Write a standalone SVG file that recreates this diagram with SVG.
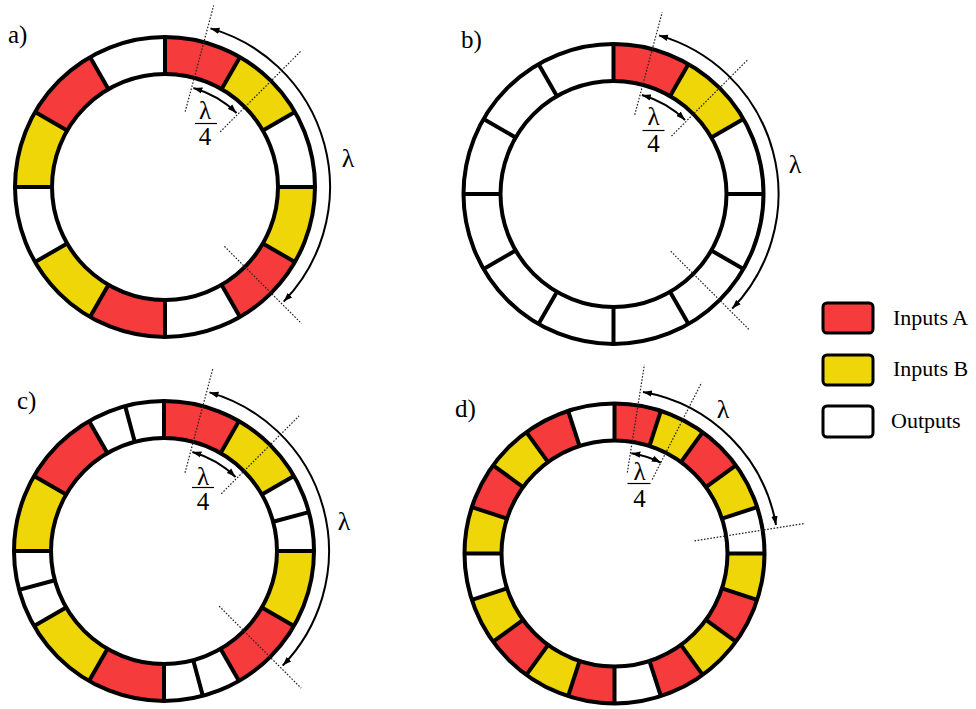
<svg xmlns="http://www.w3.org/2000/svg" xmlns:xlink="http://www.w3.org/1999/xlink" width="976" height="709" viewBox="0 0 976 709">
<style>
.r{fill:#F53B3B}
.y{fill:#EED608}
.w{fill:#FFFFFF}
.rim{fill:none;stroke:#000;stroke-width:4}
.dv{stroke:#000;stroke-width:4}
.dot{stroke:#222;stroke-width:1.2;stroke-dasharray:1.6 1.6;fill:none}
.arc{fill:none;stroke:#000;stroke-width:2;marker-start:url(#ah);marker-end:url(#ah)}
.t{font-family:"Liberation Serif","DejaVu Serif",serif;fill:#000}
.lab{font-size:25px}
.lam{font-size:26px;text-anchor:middle}
.fr{font-size:25px;text-anchor:middle}
.leg{stroke:#000;stroke-width:3}
.lt{font-size:22px}
</style>
<defs>
<marker id="ah" viewBox="0 0 10 8" refX="10" refY="4" markerWidth="9" markerHeight="7.2" markerUnits="userSpaceOnUse" orient="auto-start-reverse"><path d="M0,0.5 L10,4 L0,7.5 Z" fill="#000"/></marker>
<path id="s30" d="M0,-150 A150,150 0 0 1 75,-129.904 L56.5,-97.861 A113,113 0 0 0 0,-113 Z"/>
<path id="s18" d="M0,-150 A150,150 0 0 1 46.353,-142.659 L34.919,-107.469 A113,113 0 0 0 0,-113 Z"/>
<line id="dl" x1="0" y1="-113" x2="0" y2="-150"/>
</defs>
<rect width="976" height="709" fill="#fff"/>

<g id="ring-a" transform="translate(165,187)">
<use xlink:href="#s30" class="r"/>
<use xlink:href="#s30" class="y" transform="rotate(30)"/>
<use xlink:href="#s30" class="w" transform="rotate(60)"/>
<use xlink:href="#s30" class="y" transform="rotate(90)"/>
<use xlink:href="#s30" class="r" transform="rotate(120)"/>
<use xlink:href="#s30" class="w" transform="rotate(150)"/>
<use xlink:href="#s30" class="r" transform="rotate(180)"/>
<use xlink:href="#s30" class="y" transform="rotate(210)"/>
<use xlink:href="#s30" class="w" transform="rotate(240)"/>
<use xlink:href="#s30" class="y" transform="rotate(270)"/>
<use xlink:href="#s30" class="r" transform="rotate(300)"/>
<use xlink:href="#s30" class="w" transform="rotate(330)"/>
<circle class="rim" r="150"/><circle class="rim" r="113"/>
<g class="dv">
<use xlink:href="#dl"/><use xlink:href="#dl" transform="rotate(30)"/><use xlink:href="#dl" transform="rotate(60)"/><use xlink:href="#dl" transform="rotate(90)"/><use xlink:href="#dl" transform="rotate(120)"/><use xlink:href="#dl" transform="rotate(150)"/><use xlink:href="#dl" transform="rotate(180)"/><use xlink:href="#dl" transform="rotate(210)"/><use xlink:href="#dl" transform="rotate(240)"/><use xlink:href="#dl" transform="rotate(270)"/><use xlink:href="#dl" transform="rotate(300)"/><use xlink:href="#dl" transform="rotate(330)"/>
</g>
</g>

<g id="ring-b" transform="translate(613.5,194)">
<use xlink:href="#s30" class="r"/>
<use xlink:href="#s30" class="y" transform="rotate(30)"/>
<circle class="rim" r="150"/><circle class="rim" r="113"/>
<g class="dv">
<use xlink:href="#dl"/><use xlink:href="#dl" transform="rotate(30)"/><use xlink:href="#dl" transform="rotate(60)"/><use xlink:href="#dl" transform="rotate(90)"/><use xlink:href="#dl" transform="rotate(120)"/><use xlink:href="#dl" transform="rotate(150)"/><use xlink:href="#dl" transform="rotate(180)"/><use xlink:href="#dl" transform="rotate(210)"/><use xlink:href="#dl" transform="rotate(240)"/><use xlink:href="#dl" transform="rotate(270)"/><use xlink:href="#dl" transform="rotate(300)"/><use xlink:href="#dl" transform="rotate(330)"/>
</g>
</g>

<g id="ring-c" transform="translate(164,551)">
<use xlink:href="#s30" class="r"/>
<use xlink:href="#s30" class="y" transform="rotate(30)"/>
<use xlink:href="#s30" class="y" transform="rotate(90)"/>
<use xlink:href="#s30" class="r" transform="rotate(120)"/>
<use xlink:href="#s30" class="r" transform="rotate(180)"/>
<use xlink:href="#s30" class="y" transform="rotate(210)"/>
<use xlink:href="#s30" class="y" transform="rotate(270)"/>
<use xlink:href="#s30" class="r" transform="rotate(300)"/>
<circle class="rim" r="150"/><circle class="rim" r="113"/>
<g class="dv">
<use xlink:href="#dl"/><use xlink:href="#dl" transform="rotate(30)"/><use xlink:href="#dl" transform="rotate(60)"/><use xlink:href="#dl" transform="rotate(75)"/><use xlink:href="#dl" transform="rotate(90)"/><use xlink:href="#dl" transform="rotate(120)"/><use xlink:href="#dl" transform="rotate(150)"/><use xlink:href="#dl" transform="rotate(165)"/><use xlink:href="#dl" transform="rotate(180)"/><use xlink:href="#dl" transform="rotate(210)"/><use xlink:href="#dl" transform="rotate(240)"/><use xlink:href="#dl" transform="rotate(255)"/><use xlink:href="#dl" transform="rotate(270)"/><use xlink:href="#dl" transform="rotate(300)"/><use xlink:href="#dl" transform="rotate(330)"/><use xlink:href="#dl" transform="rotate(345)"/>
</g>
</g>

<g id="ring-d" transform="translate(614.5,553.5)">
<use xlink:href="#s18" class="r"/>
<use xlink:href="#s18" class="y" transform="rotate(18)"/>
<use xlink:href="#s18" class="r" transform="rotate(36)"/>
<use xlink:href="#s18" class="y" transform="rotate(54)"/>
<use xlink:href="#s18" class="y" transform="rotate(90)"/>
<use xlink:href="#s18" class="r" transform="rotate(108)"/>
<use xlink:href="#s18" class="y" transform="rotate(126)"/>
<use xlink:href="#s18" class="r" transform="rotate(144)"/>
<use xlink:href="#s18" class="r" transform="rotate(180)"/>
<use xlink:href="#s18" class="y" transform="rotate(198)"/>
<use xlink:href="#s18" class="r" transform="rotate(216)"/>
<use xlink:href="#s18" class="y" transform="rotate(234)"/>
<use xlink:href="#s18" class="y" transform="rotate(270)"/>
<use xlink:href="#s18" class="r" transform="rotate(288)"/>
<use xlink:href="#s18" class="y" transform="rotate(306)"/>
<use xlink:href="#s18" class="r" transform="rotate(324)"/>
<circle class="rim" r="150"/><circle class="rim" r="113"/>
<g class="dv">
<use xlink:href="#dl"/><use xlink:href="#dl" transform="rotate(18)"/><use xlink:href="#dl" transform="rotate(36)"/><use xlink:href="#dl" transform="rotate(54)"/><use xlink:href="#dl" transform="rotate(72)"/><use xlink:href="#dl" transform="rotate(90)"/><use xlink:href="#dl" transform="rotate(108)"/><use xlink:href="#dl" transform="rotate(126)"/><use xlink:href="#dl" transform="rotate(144)"/><use xlink:href="#dl" transform="rotate(162)"/><use xlink:href="#dl" transform="rotate(180)"/><use xlink:href="#dl" transform="rotate(198)"/><use xlink:href="#dl" transform="rotate(216)"/><use xlink:href="#dl" transform="rotate(234)"/><use xlink:href="#dl" transform="rotate(252)"/><use xlink:href="#dl" transform="rotate(270)"/><use xlink:href="#dl" transform="rotate(288)"/><use xlink:href="#dl" transform="rotate(306)"/><use xlink:href="#dl" transform="rotate(324)"/><use xlink:href="#dl" transform="rotate(342)"/>
</g>
</g>

<g id="connectors">
<g transform="translate(165,187)">
<line class="dot" x1="0" y1="-78" x2="0" y2="-188" transform="rotate(15)"/>
<line class="dot" x1="0" y1="-78" x2="0" y2="-192" transform="rotate(45)"/>
<line class="dot" x1="0" y1="-84" x2="0" y2="-193" transform="rotate(135)"/>
<path class="arc" d="M45.48,-158.61 A165,165 0 0 1 118.69,114.62"/>
<path class="arc" d="M28.39,-99.01 A103,103 0 0 1 71.55,-74.09"/>
</g>
<g transform="translate(613.5,194)">
<line class="dot" x1="0" y1="-82" x2="0" y2="-188" transform="rotate(15)"/>
<line class="dot" x1="0" y1="-82" x2="0" y2="-190" transform="rotate(45)"/>
<line class="dot" x1="0" y1="-81" x2="0" y2="-193" transform="rotate(135)"/>
<path class="arc" d="M45.48,-158.61 A165,165 0 0 1 118.69,114.62"/>
<path class="arc" d="M28.39,-99.01 A103,103 0 0 1 71.55,-74.09"/>
</g>
<g transform="translate(164,551)">
<line class="dot" x1="0" y1="-81" x2="0" y2="-189" transform="rotate(15)"/>
<line class="dot" x1="0" y1="-81" x2="0" y2="-191" transform="rotate(45)"/>
<line class="dot" x1="0" y1="-78" x2="0" y2="-194" transform="rotate(135)"/>
<path class="arc" d="M45.48,-158.61 A165,165 0 0 1 118.69,114.62"/>
<path class="arc" d="M28.39,-99.01 A103,103 0 0 1 71.55,-74.09"/>
</g>
<g transform="translate(614.5,553.5)">
<line class="dot" x1="0" y1="-82" x2="0" y2="-191" transform="rotate(9)"/>
<line class="dot" x1="0" y1="-83" x2="0" y2="-192" transform="rotate(27)"/>
<line class="dot" x1="0" y1="-81" x2="0" y2="-193" transform="rotate(81)"/>
<path class="arc" d="M28.48,-161.51 A164,164 0 0 1 161.51,-28.48"/>
<path class="arc" d="M16.8,-100.3 A102,102 0 0 1 46.3,-90.9"/>
</g>
</g>

<g id="labels" class="t">
<text class="lab" x="8" y="43">a)</text>
<text class="lab" x="461" y="48">b)</text>
<text class="lab" x="17" y="409">c)</text>
<text class="lab" x="455" y="417">d)</text>
<text class="lam" x="348" y="167">λ</text>
<text class="lam" x="795" y="173">λ</text>
<text class="lam" x="344" y="530">λ</text>
<text class="lam" x="723" y="418">λ</text>
<g transform="translate(165,187)"><text class="fr" x="40" y="-68">λ</text><line x1="30" y1="-63.5" x2="52" y2="-63.5" stroke="#000" stroke-width="1.2"/><text class="fr" x="40" y="-42">4</text></g>
<g transform="translate(613.5,194)"><text class="fr" x="40" y="-69">λ</text><line x1="29" y1="-63.5" x2="51" y2="-63.5" stroke="#000" stroke-width="1.2"/><text class="fr" x="40" y="-42">4</text></g>
<g transform="translate(164,551)"><text class="fr" x="39" y="-66">λ</text><line x1="28" y1="-63.5" x2="50" y2="-63.5" stroke="#000" stroke-width="1.2"/><text class="fr" x="39" y="-41">4</text></g>
<g transform="translate(614.5,553.5)"><text class="fr" x="25" y="-73.5">λ</text><line x1="13" y1="-70" x2="36" y2="-70" stroke="#000" stroke-width="1.2"/><text class="fr" x="25" y="-47">4</text></g>
</g>

<g id="legend-a"><rect class="leg r" x="823" y="303" width="50" height="30" rx="4"/><text class="t lt" x="893" y="325">Inputs A</text></g>
<g id="legend-b"><rect class="leg y" x="823" y="355" width="50" height="30" rx="4"/><text class="t lt" x="893" y="376">Inputs B</text></g>
<g id="legend-o"><rect class="leg w" x="823" y="406" width="50" height="31" rx="4"/><text class="t lt" x="891" y="428">Outputs</text></g>
</svg>
